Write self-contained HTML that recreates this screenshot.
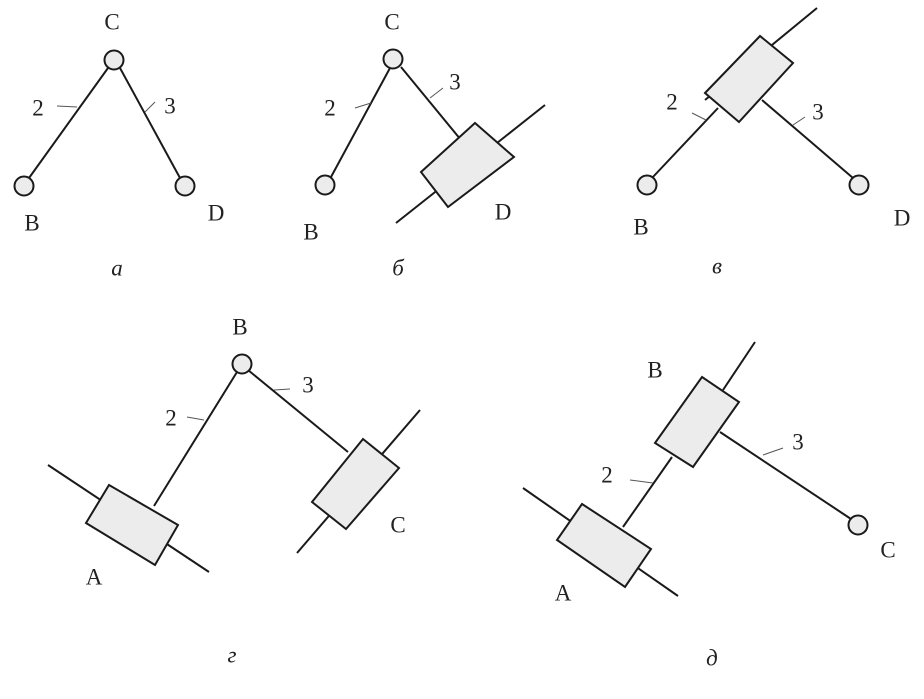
<!DOCTYPE html>
<html><head><meta charset="utf-8"><style>
html,body{margin:0;padding:0;background:#fff;}
svg{display:block;}
text{font-family:"Liberation Serif",serif;font-size:23px;fill:#222;text-anchor:middle;dominant-baseline:central;}
.i{font-style:italic;}
.l{stroke:#1a1a1a;stroke-width:2;fill:none;}
.t{stroke:#555;stroke-width:1;fill:none;}
.r{stroke:#1a1a1a;stroke-width:2;fill:#ececec;}
</style></head><body>
<svg width="924" height="699" viewBox="0 0 924 699" xmlns="http://www.w3.org/2000/svg">
<!-- a -->
<line class="l" x1="108" y1="68" x2="29" y2="178"/>
<line class="l" x1="120" y1="68" x2="180" y2="178"/>
<circle class="r" cx="114" cy="60" r="9.5"/>
<circle class="r" cx="24" cy="186" r="9.5"/>
<circle class="r" cx="185" cy="186" r="9.5"/>
<line class="t" x1="57" y1="106" x2="77" y2="107"/>
<line class="t" x1="145" y1="112" x2="155" y2="102"/>
<text x="112" y="22">C</text><text x="38" y="108">2</text><text x="170" y="106">3</text>
<text x="32" y="223">B</text><text x="216" y="213">D</text>
<text class="i" x="117" y="268">a</text>
<!-- б -->
<line class="l" x1="390" y1="68" x2="331" y2="177"/>
<line class="l" x1="401" y1="67" x2="461" y2="140"/>
<line class="l" x1="396" y1="223" x2="545" y2="105"/>
<polygon class="r" points="421,172 475,123 514,157 448,207"/>
<circle class="r" cx="393" cy="59" r="9.5"/>
<circle class="r" cx="325" cy="185" r="9.5"/>
<line class="t" x1="355" y1="108" x2="371" y2="103"/>
<line class="t" x1="430" y1="98" x2="443" y2="88"/>
<text x="392" y="22">C</text><text x="330" y="108">2</text><text x="455" y="82">3</text>
<text x="311" y="232">B</text><text x="503" y="212">D</text>
<text class="i" x="398" y="268">б</text>
<!-- в -->
<line class="l" x1="817" y1="8" x2="705" y2="100"/>
<line class="l" x1="718" y1="108" x2="652" y2="178"/>
<line class="l" x1="762" y1="100" x2="853" y2="178"/>
<polygon class="r" points="705,93 760,36 793,63 739,122"/>
<circle class="r" cx="647" cy="185" r="9.5"/>
<circle class="r" cx="859" cy="185" r="9.5"/>
<line class="t" x1="692" y1="113" x2="706" y2="120"/>
<line class="t" x1="793" y1="125" x2="805" y2="117"/>
<text x="672" y="102">2</text><text x="818" y="112">3</text>
<text x="641" y="227">B</text><text x="902" y="218">D</text>
<text class="i" x="717" y="266">в</text>
<!-- г -->
<line class="l" x1="48" y1="465" x2="209" y2="572"/>
<line class="l" x1="420" y1="410" x2="297" y2="553"/>
<line class="l" x1="237" y1="372" x2="154" y2="506"/>
<line class="l" x1="248" y1="370" x2="348" y2="452"/>
<polygon class="r" points="109,485 178,525 155,565 86,523"/>
<polygon class="r" points="363,439 399,468 346,529 312,502"/>
<circle class="r" cx="242" cy="364" r="9.5"/>
<line class="t" x1="187" y1="417" x2="204" y2="420"/>
<line class="t" x1="274" y1="390" x2="290" y2="389"/>
<text x="240" y="327">B</text><text x="171" y="418">2</text><text x="308" y="385">3</text>
<text x="94" y="577">A</text><text x="398" y="525">C</text>
<text class="i" x="232" y="655">г</text>
<!-- д -->
<line class="l" x1="755" y1="342" x2="723" y2="390"/>
<line class="l" x1="523" y1="488" x2="678" y2="596"/>
<line class="l" x1="672" y1="457" x2="623" y2="527"/>
<line class="l" x1="720" y1="432" x2="851" y2="519"/>
<polygon class="r" points="702,377 739,402 693,467 655,443"/>
<polygon class="r" points="582,504 651,549 625,587 557,540"/>
<circle class="r" cx="858" cy="525" r="9.5"/>
<line class="t" x1="630" y1="480" x2="653" y2="483"/>
<line class="t" x1="763" y1="455" x2="783" y2="448"/>
<text x="655" y="370">B</text><text x="607" y="475">2</text><text x="798" y="442">3</text>
<text x="563" y="593">A</text><text x="888" y="550">C</text>
<text class="i" x="712" y="658">д</text>
</svg>
</body></html>
